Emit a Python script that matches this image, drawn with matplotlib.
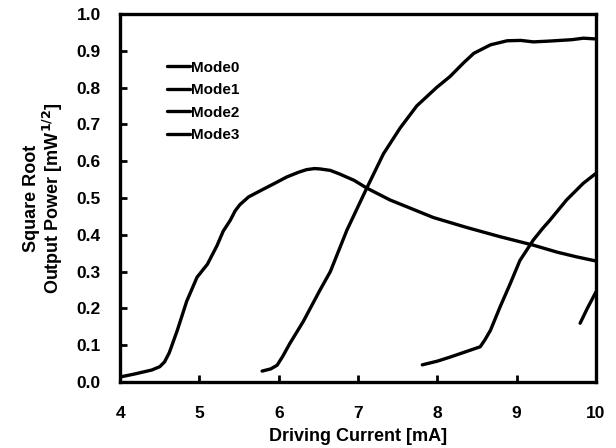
import matplotlib
matplotlib.use('Agg')
import matplotlib.pyplot as plt

plt.rcParams['font.family'] = ['Liberation Sans', 'DejaVu Sans']
plt.rcParams['font.weight'] = 'bold'

mode0_x = [4.0, 4.18, 4.4, 4.5, 4.56, 4.62, 4.72, 4.84, 4.97, 5.1, 5.22, 5.3, 5.39, 5.45, 5.51, 5.62, 5.77, 5.95, 6.1, 6.25, 6.35, 6.45, 6.52, 6.65, 6.77, 6.95, 7.11, 7.4, 7.95, 8.37, 8.79, 9.21, 9.51, 9.76, 10.0]
mode0_y = [0.014, 0.022, 0.033, 0.042, 0.055, 0.08, 0.14, 0.22, 0.285, 0.32, 0.37, 0.41, 0.44, 0.465, 0.482, 0.503, 0.52, 0.54, 0.557, 0.57, 0.577, 0.58, 0.579, 0.575, 0.565, 0.548, 0.527, 0.495, 0.447, 0.42, 0.395, 0.372, 0.353, 0.34, 0.329]

mode1_x = [5.79, 5.9, 5.98, 6.05, 6.14, 6.31, 6.52, 6.65, 6.86, 7.11, 7.32, 7.53, 7.74, 7.99, 8.16, 8.33, 8.46, 8.67, 8.88, 9.05, 9.21, 9.4, 9.55, 9.7, 9.84, 10.0]
mode1_y = [0.03, 0.036, 0.046, 0.07, 0.105, 0.165, 0.25, 0.30, 0.413, 0.527, 0.62, 0.69, 0.75, 0.80, 0.83, 0.867, 0.893, 0.916, 0.927, 0.928, 0.924, 0.926, 0.928, 0.93, 0.934, 0.932]

mode2_x = [7.81, 8.0, 8.16, 8.35, 8.54, 8.6, 8.67, 8.79, 8.92, 9.04, 9.21, 9.33, 9.42, 9.63, 9.84, 10.0]
mode2_y = [0.047, 0.057, 0.068, 0.082, 0.096, 0.115, 0.141, 0.204, 0.268, 0.33, 0.386, 0.418, 0.44, 0.495, 0.54, 0.567]

mode3_x = [9.8, 9.89, 10.0]
mode3_y = [0.16, 0.20, 0.245]

labels = ['Mode0', 'Mode1', 'Mode2', 'Mode3']

fig = plt.figure(figsize=(6.16, 4.48), dpi=100)
ax = fig.add_axes([0.195, 0.147, 0.7725, 0.822])

for xs, ys, lab in zip([mode0_x, mode1_x, mode2_x, mode3_x],
                       [mode0_y, mode1_y, mode2_y, mode3_y], labels):
    ax.plot(xs, ys, color='black', lw=2.4, label=lab,
            solid_capstyle='round', solid_joinstyle='round')

ax.set_xlim(4, 10)
ax.set_ylim(0, 1.0)
ax.set_xticks(range(4, 11))
ax.set_yticks([i / 10 for i in range(11)])
ax.set_yticklabels(['%.1f' % (i / 10) for i in range(11)])
ax.tick_params(direction='in', length=5, width=2, labelsize=12.5)
ax.tick_params(axis='y', pad=14)
ax.tick_params(axis='x', pad=17)
for lab in ax.get_xticklabels() + ax.get_yticklabels():
    lab.set_fontweight('bold')
for s in ax.spines.values():
    s.set_linewidth(2.4)

ax.set_xlabel('Driving Current [mA]', fontsize=13, fontweight='bold', labelpad=5)
ax.set_ylabel('Square Root\nOutput Power [mW$^{\\mathbf{1/2}}$]', fontsize=13,
              fontweight='bold', labelpad=8, linespacing=1.05)

leg = ax.legend(loc='upper left', bbox_to_anchor=(0.07, 0.91), frameon=False,
                handlelength=1.5, handletextpad=0.05, labelspacing=0.55,
                prop={'weight': 'bold', 'size': 11})

fig.savefig('out.png', dpi=100)
